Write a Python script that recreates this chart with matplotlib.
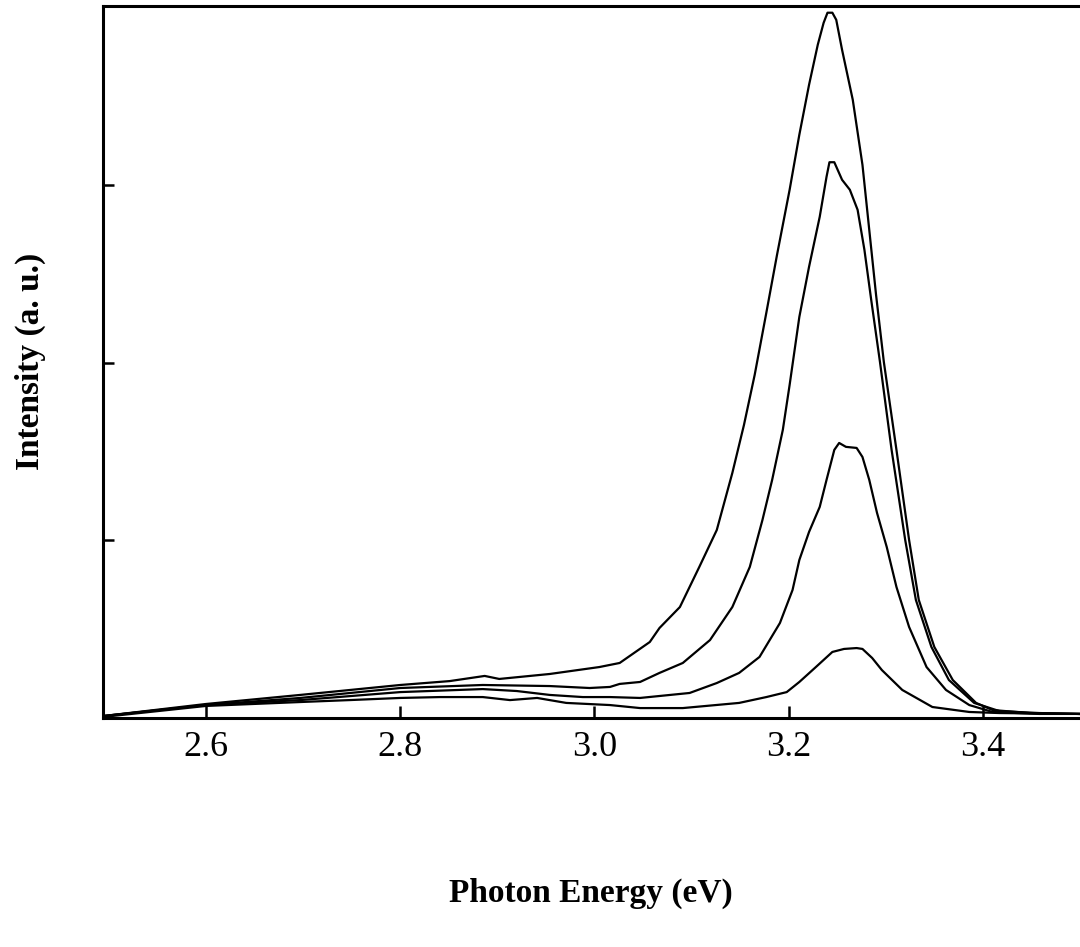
import matplotlib.pyplot as plt

# Photoluminescence spectra (four curves, arbitrary units)
energy_a = [2.494, 2.600, 2.697, 2.800, 2.851, 2.887, 2.902, 2.954, 3.005, 3.026, 3.057, 3.067,
            3.088, 3.108, 3.126, 3.142, 3.154, 3.165, 3.177, 3.188, 3.201, 3.211, 3.221, 3.230,
            3.236, 3.240, 3.245, 3.249, 3.255, 3.266, 3.276, 3.283, 3.290, 3.298, 3.311, 3.324,
            3.334, 3.350, 3.369, 3.393, 3.410, 3.448, 3.499]
intensity_a = [0.011, 0.079, 0.130, 0.186, 0.208, 0.237, 0.220, 0.248, 0.287, 0.310, 0.428, 0.507,
               0.625, 0.851, 1.059, 1.380, 1.651, 1.932, 2.282, 2.608, 2.975, 3.285, 3.566, 3.792,
               3.915, 3.972, 3.972, 3.932, 3.763, 3.482, 3.115, 2.749, 2.383, 2.006, 1.510, 1.003,
               0.665, 0.400, 0.214, 0.085, 0.045, 0.028, 0.023]

energy_b = [2.494, 2.600, 2.697, 2.800, 2.885, 2.954, 2.995, 3.016, 3.026, 3.047, 3.067, 3.091,
            3.119, 3.142, 3.160, 3.173, 3.183, 3.194, 3.201, 3.211, 3.221, 3.232, 3.239, 3.242,
            3.247, 3.255, 3.263, 3.271, 3.278, 3.285, 3.294, 3.306, 3.320, 3.331, 3.347, 3.365,
            3.391, 3.417, 3.458, 3.499]
intensity_b = [0.011, 0.073, 0.113, 0.169, 0.186, 0.180, 0.169, 0.175, 0.192, 0.203, 0.254, 0.310,
               0.439, 0.625, 0.851, 1.115, 1.341, 1.623, 1.876, 2.259, 2.541, 2.823, 3.048, 3.130,
               3.130, 3.031, 2.975, 2.862, 2.637, 2.355, 2.006, 1.510, 1.003, 0.665, 0.400, 0.214,
               0.085, 0.039, 0.028, 0.023]

energy_c = [2.494, 2.600, 2.697, 2.800, 2.885, 2.920, 2.954, 2.988, 3.016, 3.047, 3.098, 3.126,
            3.149, 3.170, 3.191, 3.204, 3.211, 3.221, 3.232, 3.239, 3.247, 3.252, 3.259, 3.270,
            3.276, 3.283, 3.291, 3.301, 3.311, 3.324, 3.342, 3.362, 3.386, 3.410, 3.458, 3.499]
intensity_c = [0.011, 0.073, 0.101, 0.146, 0.163, 0.152, 0.130, 0.118, 0.118, 0.113, 0.141, 0.197,
               0.254, 0.344, 0.535, 0.721, 0.890, 1.048, 1.189, 1.341, 1.510, 1.549, 1.527, 1.521,
               1.470, 1.341, 1.155, 0.963, 0.738, 0.513, 0.287, 0.158, 0.073, 0.034, 0.023, 0.023]

energy_d = [2.494, 2.600, 2.697, 2.748, 2.800, 2.841, 2.885, 2.913, 2.941, 2.971, 3.016, 3.047,
            3.091, 3.149, 3.177, 3.198, 3.211, 3.228, 3.245, 3.257, 3.270, 3.276, 3.286, 3.296,
            3.317, 3.348, 3.386, 3.417, 3.499]
intensity_d = [0.006, 0.068, 0.090, 0.101, 0.113, 0.118, 0.118, 0.101, 0.113, 0.085, 0.073, 0.056,
               0.056, 0.085, 0.118, 0.146, 0.203, 0.287, 0.372, 0.389, 0.394, 0.389, 0.338, 0.270,
               0.158, 0.062, 0.034, 0.028, 0.023]

x_ticks = [2.6, 2.8, 3.0, 3.2, 3.4]
x_tick_labels = ['2.6', '2.8', '3.0', '3.2', '3.4']

plt.rcParams['font.family'] = ['Liberation Serif', 'DejaVu Serif']

fig = plt.figure(figsize=(10.8, 9.47), dpi=100)
ax = fig.add_axes([0.0954, 0.2418, 0.9046, 0.7519])

for e, i in [(energy_a, intensity_a), (energy_b, intensity_b),
             (energy_c, intensity_c), (energy_d, intensity_d)]:
    ax.plot(e, i, color='black', linewidth=1.6, solid_joinstyle='round')

ax.set_xlim(2.494, 3.5)
ax.set_ylim(0, 4.01)
ax.set_xticks(x_ticks)
ax.set_xticklabels(x_tick_labels)
ax.set_yticks([1, 2, 3])
ax.set_yticklabels([])

ax.tick_params(axis='x', direction='in', length=9, width=1.8, labelsize=26, pad=9)
ax.tick_params(axis='y', direction='in', length=8, width=1.8)

for side in ['left', 'bottom', 'top']:
    ax.spines[side].set_linewidth(2.2)
ax.spines['right'].set_visible(False)

fig.text(0.547, 0.057, 'Photon Energy (eV)', fontsize=24, fontweight='bold',
         ha='center', va='center')
fig.text(0.028, 0.618, 'Intensity (a. u.)', fontsize=24, fontweight='bold',
         rotation=90, ha='center', va='center')

plt.savefig('out.png', dpi=100)
